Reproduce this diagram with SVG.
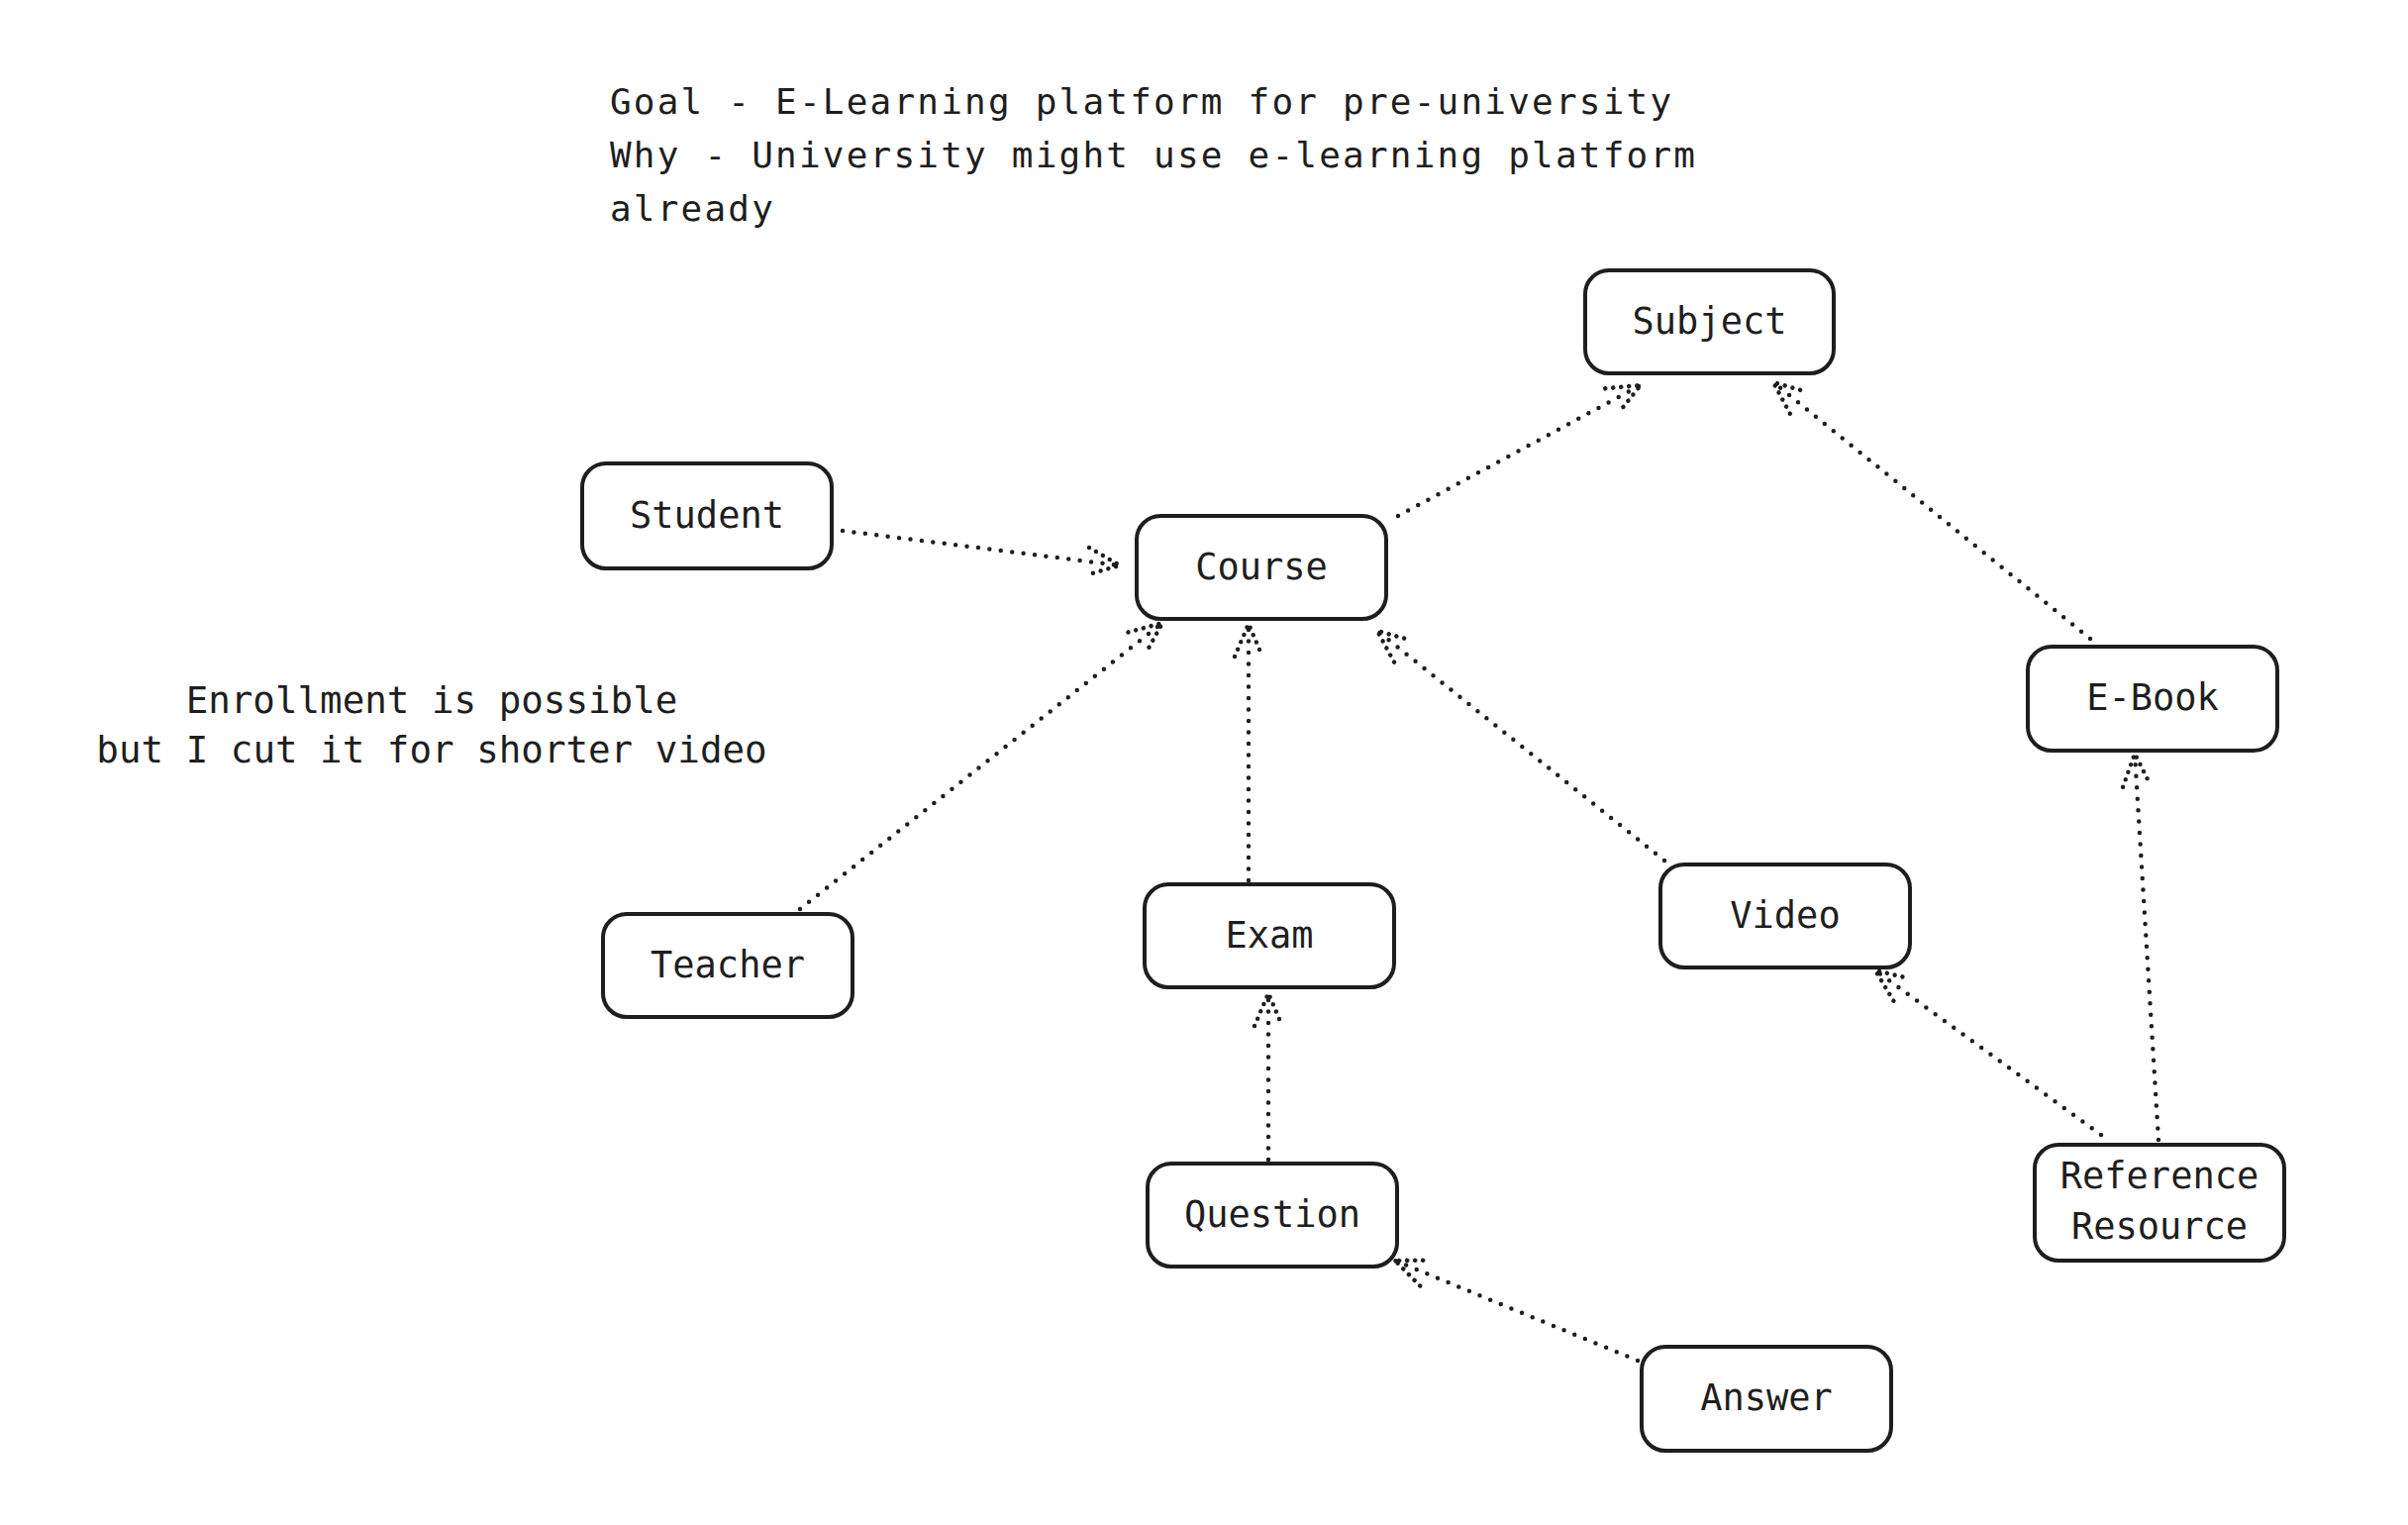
<svg xmlns="http://www.w3.org/2000/svg" width="2432" height="1540" viewBox="0 0 2432 1540">
<style>
  .box { fill: #ffffff; stroke: #1e1e1e; stroke-width: 4; }
  .lbl { font-family: "DejaVu Sans Mono", "Liberation Mono", monospace; font-size: 37px; fill: #1e1e1e; text-anchor: middle; }
  .note { font-family: "DejaVu Sans Mono", "Liberation Mono", monospace; font-size: 37.5px; fill: #1e1e1e; }
  .title { font-family: "DejaVu Sans Mono", "Liberation Mono", monospace; font-size: 36px; letter-spacing: 2.2px; fill: #1e1e1e; }
  .conn { fill: none; stroke: #1e1e1e; stroke-width: 4.5; stroke-linecap: round; stroke-dasharray: 0 11.5; }
</style>
<defs>
  <marker id="ah" markerUnits="userSpaceOnUse" markerWidth="80" markerHeight="80" viewBox="-50 -40 80 80" refX="0" refY="0" orient="auto" overflow="visible">
    <path d="M-33,-14 L0,0 L-33,14" fill="none" stroke="#1e1e1e" stroke-width="4.5" stroke-linecap="round" stroke-dasharray="0 8"/>
  </marker>
</defs>
<rect width="2432" height="1540" fill="#ffffff"/>

<g id="title-note">
  <text class="title" x="616" y="115">Goal - E-Learning platform for pre-university</text>
  <text class="title" x="616" y="169">Why - University might use e-learning platform</text>
  <text class="title" x="616" y="223">already</text>
</g>
<g id="enrollment-note">
  <text class="note" x="436" y="720" text-anchor="middle">Enrollment is possible</text>
  <text class="note" x="436" y="770" text-anchor="middle">but I cut it for shorter video</text>
</g>

<g id="connectors">
  <path class="conn" d="M851,536 L1131,571" marker-end="url(#ah)"/>
  <path class="conn" d="M1412,521 L1657,389" marker-end="url(#ah)"/>
  <path class="conn" d="M2111,645 L1791,386" marker-end="url(#ah)"/>
  <path class="conn" d="M808,918 L1174,629" marker-end="url(#ah)"/>
  <path class="conn" d="M1261,889 L1261,630" marker-end="url(#ah)"/>
  <path class="conn" d="M1681,869 L1391,637" marker-end="url(#ah)"/>
  <path class="conn" d="M1281,1171 L1281,1003" marker-end="url(#ah)"/>
  <path class="conn" d="M2122,1146 L1894,980" marker-end="url(#ah)"/>
  <path class="conn" d="M2180,1151 L2156,761" marker-end="url(#ah)"/>
  <path class="conn" d="M1654,1374 L1409,1273" marker-end="url(#ah)"/>
</g>

<g id="node-subject">
  <rect class="box" x="1601" y="273" width="251" height="104" rx="24"/>
  <text class="lbl" x="1726.5" y="337">Subject</text>
</g>
<g id="node-student">
  <rect class="box" x="588" y="468" width="252" height="106" rx="24"/>
  <text class="lbl" x="714" y="533">Student</text>
</g>
<g id="node-course">
  <rect class="box" x="1148" y="521" width="252" height="104" rx="24"/>
  <text class="lbl" x="1274" y="585">Course</text>
</g>
<g id="node-ebook">
  <rect class="box" x="2048" y="653" width="252" height="105" rx="24"/>
  <text class="lbl" x="2174" y="717">E-Book</text>
</g>
<g id="node-teacher">
  <rect class="box" x="609" y="923" width="252" height="104" rx="24"/>
  <text class="lbl" x="735" y="987">Teacher</text>
</g>
<g id="node-exam">
  <rect class="box" x="1156" y="893" width="252" height="104" rx="24"/>
  <text class="lbl" x="1282" y="957">Exam</text>
</g>
<g id="node-video">
  <rect class="box" x="1677" y="873" width="252" height="104" rx="24"/>
  <text class="lbl" x="1803" y="937">Video</text>
</g>
<g id="node-question">
  <rect class="box" x="1159" y="1175" width="252" height="104" rx="24"/>
  <text class="lbl" x="1285" y="1239">Question</text>
</g>
<g id="node-reference-resource">
  <rect class="box" x="2055" y="1156" width="252" height="117" rx="24"/>
  <text class="lbl" x="2181" y="1200">Reference</text>
  <text class="lbl" x="2181" y="1251">Resource</text>
</g>
<g id="node-answer">
  <rect class="box" x="1658" y="1360" width="252" height="105" rx="24"/>
  <text class="lbl" x="1784" y="1424">Answer</text>
</g>
</svg>
